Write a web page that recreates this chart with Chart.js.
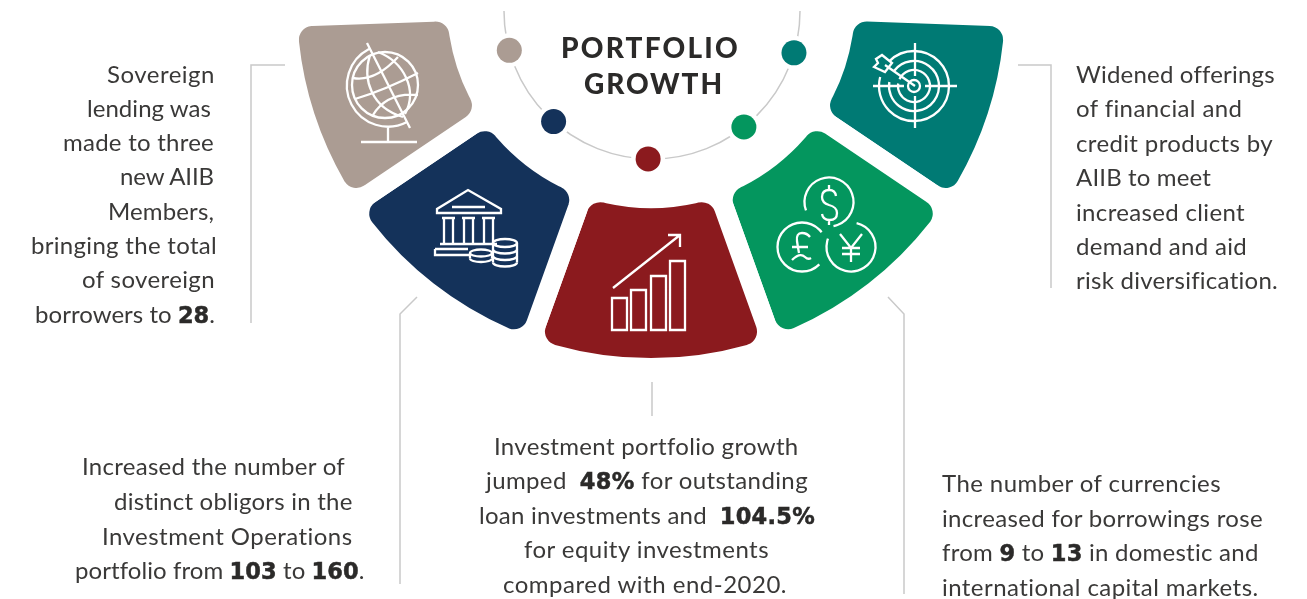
<!DOCTYPE html>
<html><head><meta charset="utf-8">
<script src="https://cdn.jsdelivr.net/npm/chart.js@4"></script>
<style>
html,body{margin:0;padding:0;background:#fff;width:1307px;height:599px;overflow:hidden}
#c{position:absolute;left:0;top:0}
.t{position:absolute;white-space:pre;font:400 24px Lato,sans-serif;color:#3a3938;line-height:30px;height:30px}
.t b{font:700 22.5px "DejaVu Sans",sans-serif;color:#2b2a29;-webkit-text-stroke:.5px #2b2a29}
.h{position:absolute;white-space:pre;font:900 28px Lato,sans-serif;color:#2b2a29;line-height:34px;height:34px}
</style></head><body>
<canvas id="c" width="1307" height="599"></canvas>
<script>
const categories=['Product diversification','Currencies','Portfolio growth','Distinct obligors','Sovereign borrowers'];
const sliceValues=[32,36.25,39.5,36.25,32];
const sliceColors=['#007a74','#04965e','#8b1a1e','#14325a','#ab9c93'];
const dotNudgeDeg=[-1.6,-0.5,1.5,3.8,2.6];
const titleLines=[['PORTFOLIO',561,740,47],['GROWTH',584,724,83]];
const textLines=[
['Sovereign',107,215,74],['lending was',87,211,108],['made to three',63,214,142],['new AIIB',120,214,176],['Members,',108,214,211],['bringing the total',31,217,245],['of sovereign',82,215,279],['borrowers to <b>28</b>.',35,215,314],
['Widened offerings',1076,1274,74],['of financial and',1076,1242,108],['credit products by',1076,1273,143],['AIIB to meet',1076,1211,177],['increased client',1076,1245,212],['demand and aid',1076,1247,246],['risk diversification.',1076,1278,280],
['Increased the number of',82,345,466],['distinct obligors in the',114,353,501],['Investment Operations',102,353,536],['portfolio from <b>103</b> to <b>160</b>.',75,364,570],
['Investment portfolio growth',494,798,446],['jumped  <b>48%</b> for outstanding',486,808,480],['loan investments and  <b>104.5%</b>',479,815,515],['for equity investments',524,769,549],['compared with end-2020.',503,787,584],
['The number of currencies',942,1221,483],['increased for borrowings rose',942,1263,518],['from <b>9</b> to <b>13</b> in domestic and',942,1259,552],['international capital markets.',942,1259,587]
];
function place(list,cls,h){
 list.forEach(([html,l,r,y])=>{
  const d=document.createElement('div');d.className=cls;d.innerHTML=html;
  d.style.left=l+'px';d.style.top=(y-h/2)+'px';document.body.appendChild(d);
  const n=d.textContent.length,w=d.getBoundingClientRect().width;
  d.style.letterSpacing=((r-l-w)/n)+'px';
 });
}
place(titleLines,'h',34);place(textLines,'t',30);

const connectors=[
'M285 65H251V323','M1018 65H1051V288','M417 297L400 314V584','M888 297L904 314V594','M652 382V416'];
const icons=[
// globe
'M367 43L410 128M388 128V142M361 142H417M369 49A41 41 0 1 0 407 122M353 78Q375 82 398 57M355 99Q385 90 418 73M373 115Q387 92 418 95M370 55C362 80 372 108 403 117M378 52C404 62 418 90 405 114',
// bank
'M437 213V209L468 190L501 209V213ZM452 207H485M442 218H455M444 218V243M453 218V243M462 218H475M464 218V243M473 218V243M482 218H495M484 218V243M493 218V243M440 244H497M435 249H468M435 249V255H469',
// growth
'M612 298H627V330H612ZM631 290H646V330H631ZM651 276H666V330H651ZM670 261H685V330H670ZM613 288L680 235M668 235H680V247',
// currency
'M836 196Q835 190 829.5 190Q822 190 822 197Q822 203 829 205Q837 207 837 213Q837 220 829.5 220Q823 220 822 214M829 185V190M829 220V225M810 237Q807 233 802 233Q796 233 797 241Q798 248 799 253M792 247H808M792 260Q800 252 805 257Q808 260 811 258M840 234L851 248L862 234M851 248V262M842 248H860M842 254H860',
// target
'M873 86H904M925 86H957M915 43V76M915 96V128M915 86L885 65M882 55L892 63L885 72L874 67L878 63L876 59Z'
];
const rings=[
[385,85,33,0,6.3],
[829,202,24.5,2.79,7.67],[802,247,24.5,0.785,5.64],[851,247,24.5,-1.34,3.49],
[914,86,35,-2.35,3.4],[914,86,25,-2.5,3.3],[914,86,16,-2.7,3.3],[914,86,6,0,6.3]
];
const coins=[[481,253,11,3.5],[505,243,12,4]];

const decor={id:'decor',afterDatasetsDraw(chart){
 const ctx=chart.ctx,arcs=chart.getDatasetMeta(0).data;
 const cx=652,cy=11,r=148;
 ctx.save();
 ctx.lineCap='butt';ctx.strokeStyle='#c9c9c9';ctx.lineWidth=1.5;
 connectors.forEach(p=>ctx.stroke(new Path2D(p)));
 ctx.beginPath();ctx.arc(cx,cy,r,-0.0,Math.PI);ctx.stroke();
 arcs.forEach((a,i)=>{
  const m=(a.startAngle+a.endAngle)/2+dotNudgeDeg[i]*Math.PI/180;
  const x=cx+r*Math.cos(m),y=cy+r*Math.sin(m);
  ctx.fillStyle='#fff';ctx.beginPath();ctx.arc(x,y,17,0,7);ctx.fill();
  ctx.fillStyle=sliceColors[i];ctx.beginPath();ctx.arc(x,y,12.5,0,7);ctx.fill();
 });
 ctx.strokeStyle='#fff';ctx.lineWidth=2.3;ctx.lineJoin='miter';
 icons.forEach(p=>ctx.stroke(new Path2D(p)));
 rings.forEach(([x,y,rr,a,b])=>{ctx.beginPath();ctx.arc(x,y,rr,a,b);ctx.stroke();});
 coins.forEach(([x,y,rx,ry],k)=>{
  ctx.beginPath();ctx.ellipse(x,y,rx,ry,0,0,7);ctx.stroke();
  const n=k?3:1;
  for(let j=1;j<=n;j++){ctx.beginPath();ctx.ellipse(x,y+j*(k?6.5:5.5),rx,ry,0,0,Math.PI);ctx.stroke();}
  ctx.beginPath();ctx.moveTo(x-rx,y);ctx.lineTo(x-rx,y+n*(k?6.5:5.5));ctx.moveTo(x+rx,y);ctx.lineTo(x+rx,y+n*(k?6.5:5.5));ctx.stroke();
 });
 ctx.restore();
}};

new Chart(document.getElementById('c'),{
 type:'doughnut',
 data:{labels:categories,datasets:[{data:sliceValues,backgroundColor:sliceColors,borderColor:'#fff',borderWidth:20,borderRadius:24,clip:false,hoverOffset:0}]},
 options:{responsive:false,animation:false,rotation:92,circumference:176,radius:364,cutout:'53.3%',
  layout:{padding:{bottom:220,right:5}},
  plugins:{legend:{display:false},tooltip:{enabled:false}}},
 plugins:[decor]
});
</script>
</body></html>
